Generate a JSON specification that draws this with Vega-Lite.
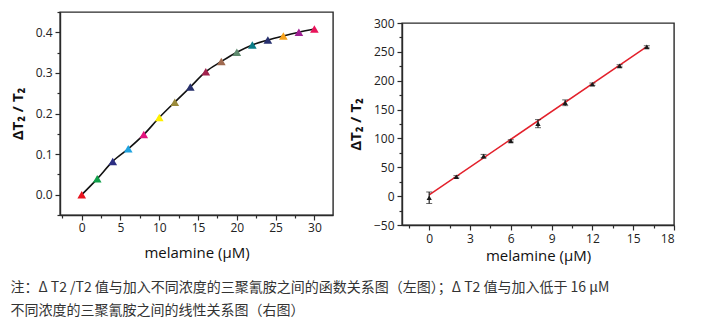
{
  "$schema": "https://vega.github.io/schema/vega-lite/v6.json",
  "padding": {"left": 9, "top": 10, "right": 5, "bottom": 5},
  "background": "white",
  "config": {
    "view": {"stroke": "#2a2a2a", "strokeWidth": 1.4},
    "axis": {
      "labelFont": "Open Sans", "labelFontSize": 12, "labelColor": "#222",
      "titleFont": "Open Sans", "titleColor": "#111",
      "domainColor": "#2a2a2a", "domainWidth": 1.4,
      "tickColor": "#2a2a2a", "tickWidth": 1.2, "grid": false
    }
  },
  "title": {
    "text": ["注：Δ T2 /T2 值与加入不同浓度的三聚氰胺之间的函数关系图（左图）；Δ T2 值与加入低于 16 μM", "不同浓度的三聚氰胺之间的线性关系图（右图）"],
    "orient": "bottom", "anchor": "start", "frame": "bounds",
    "font": "Noto Sans CJK SC", "fontSize": 14, "fontWeight": "normal",
    "color": "#333333", "lineHeight": 23, "offset": 17, "dx": 1
  },
  "spacing": 13,
  "hconcat": [
    {
      "width": 273, "height": 203,
      "data": {"values": [
        {"conc": 0, "ratio": 0.0},
        {"conc": 2, "ratio": 0.039},
        {"conc": 4, "ratio": 0.082},
        {"conc": 6, "ratio": 0.113},
        {"conc": 8, "ratio": 0.148},
        {"conc": 10, "ratio": 0.19},
        {"conc": 12, "ratio": 0.228},
        {"conc": 14, "ratio": 0.265},
        {"conc": 16, "ratio": 0.303},
        {"conc": 18, "ratio": 0.328},
        {"conc": 20, "ratio": 0.351},
        {"conc": 22, "ratio": 0.369},
        {"conc": 24, "ratio": 0.381},
        {"conc": 26, "ratio": 0.391},
        {"conc": 28, "ratio": 0.4},
        {"conc": 30, "ratio": 0.408}
      ]},
      "layer": [
        {
          "mark": {"type": "line", "color": "#111", "strokeWidth": 1.6, "interpolate": "monotone"},
          "encoding": {
            "x": {"field": "conc", "type": "quantitative", "scale": {"domain": [-2.8, 32.4], "nice": false, "zero": false},
              "axis": {"orient": "bottom", "values": [-2.5, 2.5, 7.5, 12.5, 17.5, 22.5, 27.5], "labels": false, "title": null, "tickSize": 3, "domain": false}},
            "y": {"field": "ratio", "type": "quantitative", "scale": {"domain": [-0.05, 0.45], "nice": false, "zero": false},
              "axis": {"orient": "left", "values": [-0.05, 0.05, 0.15, 0.25, 0.35, 0.45], "labels": false, "title": null, "tickSize": 3, "domain": false}}
          }
        },
        {
          "mark": {"type": "point", "shape": "triangle-up", "filled": true, "size": 75, "opacity": 1},
          "encoding": {
            "x": {"field": "conc", "type": "quantitative",
              "axis": {"orient": "bottom", "values": [0, 5, 10, 15, 20, 25, 30], "tickSize": 5, "labelPadding": 2, "title": "melamine (μM)", "titleFontSize": 15, "titleFontWeight": "normal", "titlePadding": 12}},
            "y": {"field": "ratio", "type": "quantitative",
              "axis": {"orient": "left", "values": [0, 0.1, 0.2, 0.3, 0.4], "format": ".1f", "tickSize": 5, "labelPadding": 3, "title": "ΔT₂ / T₂", "titleFontSize": 15, "titleFontWeight": "bold", "titlePadding": 10}},
            "color": {"field": "conc", "type": "nominal", "legend": null,
              "scale": {"domain": [0, 2, 4, 6, 8, 10, 12, 14, 16, 18, 20, 22, 24, 26, 28, 30],
                "range": ["#e8141f", "#10a04a", "#2b2e83", "#1fa3e0", "#e4147f", "#fff000", "#9a8a3a", "#262f6b", "#a1224d", "#a06a50", "#5e8a6e", "#0a7c88", "#27306f", "#f7a21b", "#9e1f92", "#e8145a"]}}
          }
        }
      ],
      "resolve": {"axis": {"x": "independent", "y": "independent"}}
    },
    {
      "spacing": 3,
      "vconcat": [
        {
          "width": 272, "height": 1,
          "view": {"stroke": null},
          "data": {"values": []},
          "mark": "point",
          "encoding": {}
        },
        {
          "width": 272, "height": 202,
          "layer": [
            {
              "data": {"values": [{"conc": 0, "ratio": 2}, {"conc": 16, "ratio": 259}]},
              "mark": {"type": "line", "color": "#e3202b", "strokeWidth": 1.5},
              "encoding": {
                "x": {"field": "conc", "type": "quantitative", "scale": {"domain": [-2, 18], "nice": false, "zero": false},
                  "axis": {"orient": "bottom", "values": [-1.5, 1.5, 4.5, 7.5, 10.5, 13.5, 16.5], "labels": false, "title": null, "tickSize": 3, "domain": false}},
                "y": {"field": "ratio", "type": "quantitative", "scale": {"domain": [-50, 300], "nice": false, "zero": false},
                  "axis": {"orient": "left", "values": [-25, 25, 75, 125, 175, 225, 275], "labels": false, "title": null, "tickSize": 3, "domain": false}}
              }
            },
            {
              "data": {"name": "pts", "values": [
                {"conc": 0, "ratio": -2.8, "err": 10},
                {"conc": 2, "ratio": 33.5, "err": 2},
                {"conc": 4, "ratio": 69.3, "err": 3},
                {"conc": 6, "ratio": 95.7, "err": 2},
                {"conc": 8, "ratio": 125.6, "err": 7},
                {"conc": 10, "ratio": 161.8, "err": 5},
                {"conc": 12, "ratio": 194, "err": 2},
                {"conc": 14, "ratio": 225.7, "err": 2},
                {"conc": 16, "ratio": 258.6, "err": 2}
              ]},
              "mark": {"type": "errorbar", "ticks": {"size": 6, "color": "#222"}, "rule": {"color": "#222", "strokeWidth": 1.2}},
              "encoding": {
                "x": {"field": "conc", "type": "quantitative", "axis": null},
                "y": {"field": "ratio", "type": "quantitative", "axis": null},
                "yError": {"field": "err"}
              }
            },
            {
              "data": {"name": "pts"},
              "mark": {"type": "point", "shape": "triangle-up", "filled": true, "size": 28, "color": "#1a1a1a", "opacity": 1},
              "encoding": {
                "x": {"field": "conc", "type": "quantitative",
                  "axis": {"orient": "bottom", "values": [0, 3, 6, 9, 12, 15, 18], "tickSize": 5, "labelPadding": 3, "title": "melamine (μM)", "titleFontSize": 15, "titleFontWeight": "normal", "titlePadding": 4}},
                "y": {"field": "ratio", "type": "quantitative",
                  "axis": {"orient": "left", "values": [-50, 0, 50, 100, 150, 200, 250, 300], "tickSize": 5, "labelPadding": 3, "title": "ΔT₂ / T₂", "titleFontSize": 15, "titleFontWeight": "bold", "titlePadding": 10}}
              }
            }
          ],
          "resolve": {"axis": {"x": "independent", "y": "independent"}}
        }
      ]
    }
  ]
}
